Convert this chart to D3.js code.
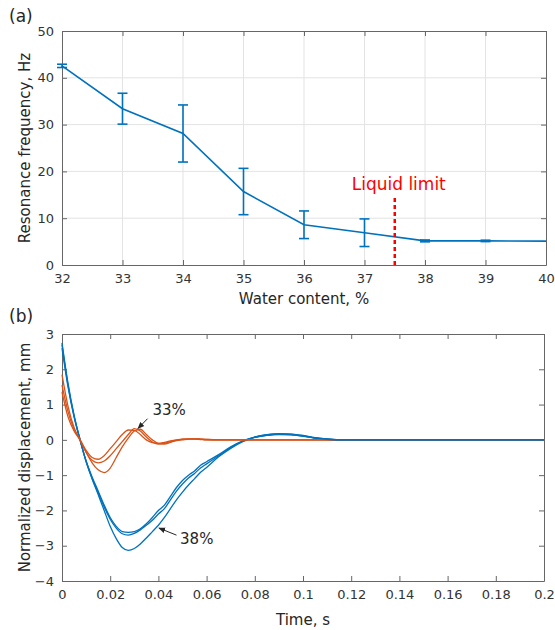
<!DOCTYPE html>
<html lang="en">
<head>
<meta charset="UTF-8">
<title>Resonance frequency and displacement</title>
<script src="https://cdnjs.cloudflare.com/ajax/libs/d3/7.8.5/d3.min.js"></script>
<style>
body{ margin:0; background:#fff; }
svg text{ font-family:"DejaVu Sans", sans-serif; fill:#262626; }
.tick text{ font-size:13px; fill:#333; }
.axlabel{ font-size:15px; }
.panel{ font-size:17px; }
</style>
</head>
<body>
<svg id="chart" width="555" height="630"></svg>
<script>
// panel (a)
var waterContent = [32, 33, 34, 35, 36, 37, 38, 39, 40];
var resFreq      = [42.55, 33.4, 28.1, 15.7, 8.6, 6.9, 5.15, 5.15, 5.1];
var resErr       = [0.35, 3.3, 6.1, 4.95, 2.95, 2.95, 0.2, 0.15, 0.1];
var liquidLimit  = 37.5;
var liquidTop    = 14.7;

// panel (b)
var time = [0, 0.0025, 0.005, 0.0075, 0.01, 0.0125, 0.015, 0.0175, 0.02, 0.0225,
            0.025, 0.0275, 0.03, 0.0325, 0.035, 0.0375, 0.04, 0.0425, 0.045, 0.0475,
            0.05, 0.0525, 0.055, 0.0575, 0.06, 0.065, 0.07, 0.075, 0.08, 0.085,
            0.09, 0.095, 0.1, 0.105, 0.11, 0.115, 0.12, 0.2];
var wc33a = [1.85, 0.95, 0.35, 0.0, -0.3, -0.5, -0.55, -0.45, -0.25, -0.05,
             0.15, 0.28, 0.27, 0.15, 0.0, -0.08, -0.1, -0.07, -0.03, 0.0,
             0.02, 0.02, 0.02, 0.01, 0, 0, 0, 0, 0, 0, 0, 0, 0, 0, 0, 0, 0, 0];
var wc33b = [1.55, 0.8, 0.3, 0.0, -0.35, -0.58, -0.65, -0.6, -0.45, -0.25,
             -0.05, 0.15, 0.32, 0.25, 0.08, -0.06, -0.12, -0.1, -0.05, -0.01,
             0.02, 0.03, 0.03, 0.02, 0.01, 0, 0, 0, 0, 0, 0, 0, 0, 0, 0, 0, 0, 0];
var wc33c = [1.35, 0.65, 0.25, 0.0, -0.35, -0.65, -0.85, -0.93, -0.8, -0.5,
             -0.2, 0.05, 0.25, 0.3, 0.15, 0.0, -0.1, -0.12, -0.07, -0.02,
             0.0, 0.02, 0.03, 0.02, 0.01, 0, 0, 0, 0, 0, 0, 0, 0, 0, 0, 0, 0, 0];
var wc38a = [2.75, 1.6, 0.7, 0.0, -0.6, -1.05, -1.45, -1.85, -2.2, -2.45,
             -2.6, -2.62, -2.6, -2.52, -2.38, -2.2, -2.0, -1.85, -1.6, -1.35,
             -1.15, -1.0, -0.88, -0.72, -0.62, -0.42, -0.2, -0.03, 0.08, 0.14,
             0.17, 0.16, 0.12, 0.06, 0.02, 0, 0, 0];
var wc38b = [2.7, 1.55, 0.68, 0.0, -0.62, -1.1, -1.5, -1.9, -2.25, -2.5,
             -2.66, -2.7, -2.65, -2.55, -2.42, -2.28, -2.1, -1.95, -1.7, -1.45,
             -1.25, -1.08, -0.95, -0.8, -0.68, -0.45, -0.22, -0.04, 0.08, 0.13,
             0.16, 0.15, 0.11, 0.05, 0.02, 0, 0, 0];
var wc38c = [2.6, 1.5, 0.65, 0.0, -0.6, -1.1, -1.55, -2.0, -2.45, -2.8,
             -3.05, -3.13, -3.08, -2.95, -2.78, -2.6, -2.42, -2.2, -1.95, -1.7,
             -1.48, -1.28, -1.1, -0.92, -0.78, -0.48, -0.24, -0.05, 0.07, 0.13,
             0.15, 0.14, 0.1, 0.05, 0.01, 0, 0, 0];

var blue = '#0072bd', orange = '#d95319';
var svg = d3.select('#chart');

function box(g, x, y, w, h, xTicks, yTicks, xFmt, yFmt){
  var ax = g.append('g').attr('transform', 'translate(0,' + h + ')')
    .call(d3.axisBottom(x).tickValues(xTicks).tickSizeInner(-5).tickSizeOuter(0).tickPadding(9).tickFormat(xFmt));
  var at = g.append('g')
    .call(d3.axisTop(x).tickValues(xTicks).tickSizeInner(-5).tickSizeOuter(0).tickFormat(''));
  var ay = g.append('g')
    .call(d3.axisLeft(y).tickValues(yTicks).tickSizeInner(-5).tickSizeOuter(0).tickPadding(8).tickFormat(yFmt));
  var ar = g.append('g').attr('transform', 'translate(' + w + ',0)')
    .call(d3.axisRight(y).tickValues(yTicks).tickSizeInner(-5).tickSizeOuter(0).tickFormat(''));
  [ax, at, ay, ar].forEach(function(a){
    a.select('.domain').attr('stroke', '#666');
    a.selectAll('.tick line').attr('stroke', '#666');
  });
}

// ---------- (a)
var ga = svg.append('g').attr('transform', 'translate(62,31)');
var wA = 484, hA = 234;
var xA = d3.scaleLinear().domain([32, 40]).range([0, wA]);
var yA = d3.scaleLinear().domain([0, 50]).range([hA, 0]);

ga.append('g').selectAll('line.gx').data(d3.range(33, 40)).enter().append('line')
  .attr('x1', function(d){ return xA(d); }).attr('x2', function(d){ return xA(d); })
  .attr('y1', 0).attr('y2', hA).attr('stroke', '#e3e3e3');
ga.append('g').selectAll('line.gy').data([10, 20, 30, 40]).enter().append('line')
  .attr('y1', function(d){ return yA(d); }).attr('y2', function(d){ return yA(d); })
  .attr('x1', 0).attr('x2', wA).attr('stroke', '#e3e3e3');

box(ga, xA, yA, wA, hA, d3.range(32, 41), d3.range(0, 51, 10), d3.format('d'), d3.format('d'));

var ptsA = waterContent.map(function(w, i){ return {w: w, f: resFreq[i], e: resErr[i]}; });
ga.append('path').datum(ptsA)
  .attr('fill', 'none').attr('stroke', blue).attr('stroke-width', 1.6)
  .attr('d', d3.line().x(function(d){ return xA(d.w); }).y(function(d){ return yA(d.f); }));

var eb = ga.append('g').selectAll('g').data(ptsA.slice(0, 8)).enter().append('g')
  .attr('stroke', blue).attr('stroke-width', 1.6);
eb.append('line')
  .attr('x1', function(d){ return xA(d.w); }).attr('x2', function(d){ return xA(d.w); })
  .attr('y1', function(d){ return yA(d.f - d.e); }).attr('y2', function(d){ return yA(d.f + d.e); });
eb.append('line')
  .attr('x1', function(d){ return xA(d.w) - 5; }).attr('x2', function(d){ return xA(d.w) + 5; })
  .attr('y1', function(d){ return yA(d.f - d.e); }).attr('y2', function(d){ return yA(d.f - d.e); });
eb.append('line')
  .attr('x1', function(d){ return xA(d.w) - 5; }).attr('x2', function(d){ return xA(d.w) + 5; })
  .attr('y1', function(d){ return yA(d.f + d.e); }).attr('y2', function(d){ return yA(d.f + d.e); });

ga.append('line')
  .attr('x1', xA(liquidLimit)).attr('x2', xA(liquidLimit))
  .attr('y1', yA(0)).attr('y2', yA(liquidTop))
  .attr('stroke', '#ff0000').attr('stroke-width', 2.5).attr('stroke-dasharray', '4,3');
ga.append('text').attr('x', xA(liquidLimit) + 4).attr('y', yA(liquidTop) - 6)
  .attr('text-anchor', 'middle').style('font-size', '17px').style('fill', '#ff0000')
  .text('Liquid limit');

svg.append('text').attr('class', 'axlabel').attr('x', 62 + wA / 2).attr('y', 304)
  .attr('text-anchor', 'middle').text('Water content, %');
svg.append('text').attr('class', 'axlabel').attr('transform', 'translate(30,' + (31 + hA / 2) + ') rotate(-90)')
  .attr('text-anchor', 'middle').text('Resonance frequency, Hz');
svg.append('text').attr('class', 'panel').attr('x', 9).attr('y', 22).text('(a)');

// ---------- (b)
var gb = svg.append('g').attr('transform', 'translate(62,334)');
var wB = 482, hB = 247;
var xB = d3.scaleLinear().domain([0, 0.2]).range([0, wB]);
var yB = d3.scaleLinear().domain([-4, 3]).range([hB, 0]);

box(gb, xB, yB, wB, hB, d3.range(0, 11).map(function(i){ return i * 0.02; }), d3.range(-4, 4),
    function(d){ return d3.format('~g')(+d.toFixed(2)); }, d3.format('d'));

var lineB = d3.line().curve(d3.curveMonotoneX)
  .x(function(d){ return xB(d[0]); }).y(function(d){ return yB(d[1]); });
var series = [
  {v: wc38a, c: blue}, {v: wc38b, c: blue}, {v: wc38c, c: blue},
  {v: wc33a, c: orange}, {v: wc33b, c: orange}, {v: wc33c, c: orange}
];
gb.append('g').selectAll('path').data(series).enter().append('path')
  .attr('fill', 'none').attr('stroke', function(d){ return d.c; }).attr('stroke-width', 1.3)
  .attr('d', function(d){ return lineB(time.map(function(t, i){ return [t, d.v[i]]; })); });
// blue drawn over orange along the tail
gb.append('path').datum(time.map(function(t, i){ return [t, wc38a[i]]; }).slice(28))
  .attr('fill', 'none').attr('stroke', blue).attr('stroke-width', 1.6).attr('d', lineB);

svg.append('defs').append('marker').attr('id', 'arr').attr('viewBox', '0 0 10 10')
  .attr('refX', 9).attr('refY', 5).attr('markerWidth', 7).attr('markerHeight', 7)
  .attr('orient', 'auto').append('path').attr('d', 'M0,1 L10,5 L0,9 z').attr('fill', '#262626');

gb.append('line').attr('x1', xB(0.0355)).attr('y1', yB(0.6)).attr('x2', xB(0.0315)).attr('y2', yB(0.32))
  .attr('stroke', '#262626').attr('stroke-width', 1).attr('marker-end', 'url(#arr)');
gb.append('text').attr('x', xB(0.0375)).attr('y', yB(0.7)).style('font-size', '15px').text('33%');
gb.append('line').attr('x1', xB(0.0475)).attr('y1', yB(-2.7)).attr('x2', xB(0.0402)).attr('y2', yB(-2.5))
  .attr('stroke', '#262626').attr('stroke-width', 1).attr('marker-end', 'url(#arr)');
gb.append('text').attr('x', xB(0.049)).attr('y', yB(-2.95)).style('font-size', '15px').text('38%');

svg.append('text').attr('class', 'axlabel').attr('x', 62 + wB / 2).attr('y', 625)
  .attr('text-anchor', 'middle').text('Time, s');
svg.append('text').attr('class', 'axlabel').attr('transform', 'translate(30,' + (334 + hB / 2) + ') rotate(-90)')
  .attr('text-anchor', 'middle').text('Normalized displacement, mm');
svg.append('text').attr('class', 'panel').attr('x', 9).attr('y', 322).text('(b)');
</script>
</body>
</html>
